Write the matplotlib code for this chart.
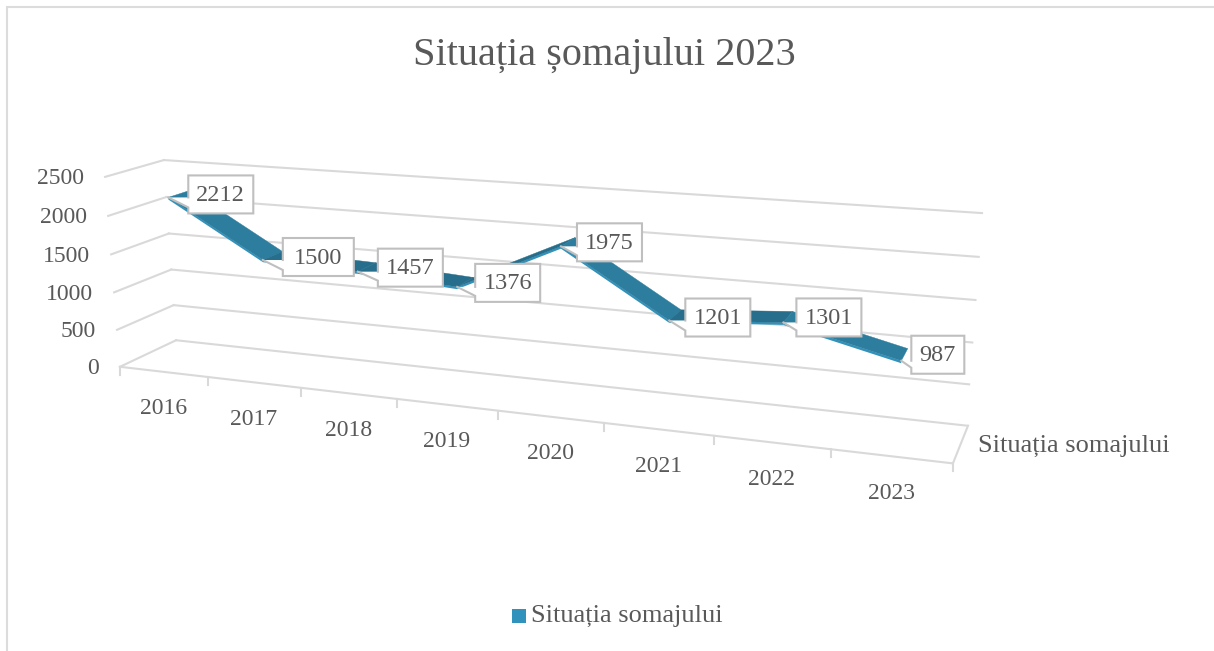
import numpy as np
import matplotlib
matplotlib.use("Agg")
import matplotlib.pyplot as plt
from matplotlib.transforms import Transform

plt.rcParams['font.family'] = ['Liberation Serif', 'DejaVu Serif']

# ---- data ----
years = ['2016', '2017', '2018', '2019', '2020', '2021', '2022', '2023']
somaj = [2212, 1500, 1457, 1376, 1975, 1201, 1301, 987]
y_ticks = [0, 500, 1000, 1500, 2000, 2500]
title = 'Situația șomajului 2023'
series = 'Situația somajului'

# ---- style / layout ----
GRID = '#d9d9d9'
TXT = '#595959'
FALL = '#2c7d9e'
RISE = '#266e8b'
SIDE = '#3192bb'
BOX = '#bfbfbf'
YMAX = 2500
NCAT = len(years)

# camera fitted on the corners of the 3D box: (cat, depth, value) -> pixel
corners = [((0, 0, 0), (120, 367)), ((0, 1, 0), (176, 340)), ((NCAT, 1, 0), (966, 426)),
           ((NCAT, 0, 0), (953, 463)), ((0, 1, YMAX), (164, 160)),
           ((NCAT, 1, YMAX), (982, 213)), ((0, 0, YMAX), (105, 177))]
A = []
for (c, d, v), (u, w) in corners:
    P = [c / NCAT, d, v / YMAX, 1]
    A.append(P + [0, 0, 0, 0] + [-u * p for p in P])
    A.append([0, 0, 0, 0] + P + [-w * p for p in P])
CAM = np.linalg.svd(np.array(A, float))[2][-1].reshape(3, 4)


class Box3D(Transform):
    """(category position, value) at a fixed depth -> pixel coordinates."""
    input_dims = output_dims = 2

    def __init__(self, wall_depth):
        super().__init__()
        self.wall_depth = wall_depth

    def transform_non_affine(self, xy):
        xy = np.asarray(xy, float)
        P = np.c_[xy[:, 0] / NCAT, np.full(len(xy), self.wall_depth), xy[:, 1] / YMAX, np.ones(len(xy))]
        q = P @ CAM.T
        return q[:, :2] / q[:, 2:]


def proj(x, v, d):
    return Box3D(d).transform_non_affine(np.array([[x, v]]))[0]


fig = plt.figure(figsize=(12.14, 6.51), dpi=100, facecolor='white')
ax = fig.add_axes([0, 0, 1, 1])
ax.set_xlim(0, 1214)
ax.set_ylim(651, 0)
ax.axis('off')

# outer frame
ax.plot([7, 7, 1214], [651, 7, 7], color='#dcdcdc', lw=1.5, solid_joinstyle='miter')

ax.text(604, 55, title, color=TXT, fontsize=29, ha='center', va='center')

# walls and floor
LW = 1.5
back = Box3D(1) + ax.transData
front = Box3D(0) + ax.transData
for v in y_ticks:
    ax.plot([0, NCAT], [v, v], color=GRID, lw=LW, transform=back)
    a, b = proj(0, v, 0), proj(0, v, 1)
    ax.plot([a[0], b[0]], [a[1], b[1]], color=GRID, lw=LW)
    ax.text(a[0] - 21, a[1] + 2, str(v), color=TXT, fontsize=17, ha='right', va='center')
ax.plot([0, NCAT], [0, 0], color=GRID, lw=LW, transform=front)
a, b = proj(NCAT, 0, 0), proj(NCAT, 0, 1)
ax.plot([a[0], b[0] + 2], [a[1], b[1]], color=GRID, lw=LW)
for i in range(NCAT + 1):
    p = proj(i, 0, 0)
    ax.plot([p[0], p[0]], [p[1], p[1] + 8], color=GRID, lw=LW)
for i, y in enumerate(years):
    p = proj(i + 0.5, 0, 0)
    ax.text(p[0], p[1] + 37, y, color=TXT, fontsize=17, ha='center', va='center')
ax.text(978, 446, series, color=TXT, fontsize=19, ha='left', va='center')

# ribbon
D1, D2 = 0.28, 0.66
THICK = 28
xs = np.arange(NCAT) + 0.5
for i in range(NCAT - 1):
    x0, x1, v0, v1 = xs[i], xs[i + 1], somaj[i], somaj[i + 1]
    s = np.array([proj(x0, v0, D1), proj(x1, v1, D1), proj(x1, v1 - THICK, D1), proj(x0, v0 - THICK, D1)])
    ax.fill(s[:, 0], s[:, 1], color=SIDE, lw=0, zorder=3)
    t = np.array([proj(x0, v0, D1), proj(x1, v1, D1), proj(x1, v1, D2), proj(x0, v0, D2)])
    ax.fill(t[:, 0], t[:, 1], color=FALL if v1 < v0 - 200 else RISE, lw=0.3, zorder=4)

# data-label callouts: box offset (left, top, width) from the anchored point
label_dx = [20, 20, 20, 18, 16, 16, 13, 10]
label_dy = [-22, -22, -23, -23, -23, -22, -24, -25]
label_w = [65, 71, 65, 65, 65, 65, 65, 53]
BH = 38
for i, v in enumerate(somaj):
    tip = proj(xs[i], v, D1)
    x0 = tip[0] + label_dx[i]
    y0 = tip[1] + label_dy[i]
    x1, y1 = x0 + label_w[i], y0 + BH
    ya, yb = tip[1], y1 - 6
    ax.fill([x0, x1, x1, x0, x0, tip[0], x0], [y0, y0, y1, y1, yb, tip[1], ya],
            color='white', lw=0, zorder=6)
    ax.plot([x0, x0, x1, x1, x0, x0, tip[0]], [ya, y0, y0, y1, y1, yb, tip[1]],
            color=BOX, lw=1.5, zorder=7, solid_joinstyle='miter')
    ax.text((x0 + x1) / 2, (y0 + y1) / 2 + 1, str(v), color=TXT, fontsize=17.5,
            ha='center', va='center', zorder=8)

# legend
ax.fill([512, 526, 526, 512], [609, 609, 623, 623], color=SIDE, lw=0)
ax.text(531, 616, series, color=TXT, fontsize=19, ha='left', va='center')

fig.savefig('out.png', dpi=100, facecolor='white')
